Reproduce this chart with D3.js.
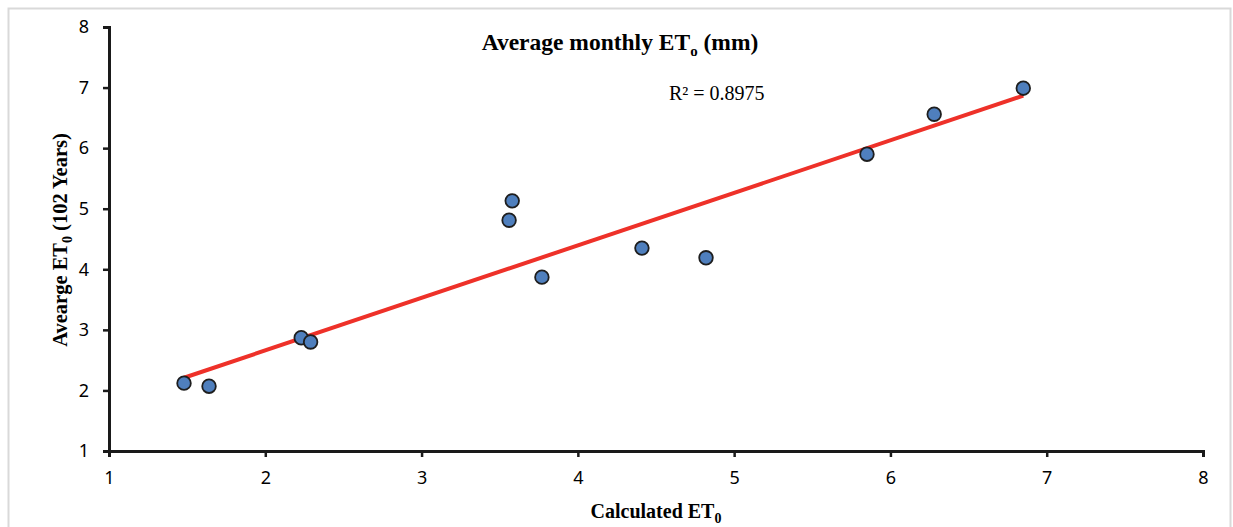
<!DOCTYPE html>
<html>
<head>
<meta charset="utf-8">
<script src="https://cdn.jsdelivr.net/npm/d3@7"></script>
<style>
  html, body { margin: 0; padding: 0; background: #fff; }
  svg { display: block; }
</style>
</head>
<body>
<svg id="graph"></svg>
<script>
// values
const calculated = [1.48, 1.64, 2.23, 2.29, 3.56, 3.58, 3.77, 4.41, 4.82, 5.85, 6.28, 6.85];
const average    = [2.12, 2.07, 2.87, 2.80, 4.81, 5.13, 3.87, 4.35, 4.19, 5.90, 6.56, 6.99];
const xTicks = [1, 2, 3, 4, 5, 6, 7, 8];
const yTicks = [1, 2, 3, 4, 5, 6, 7, 8];
const rSquared = "R² = 0.8975";

const WIDTH = 1233;
const HEIGHT = 527;
const margin = {top: 27, right: 30, bottom: 76, left: 109};

const svg = d3.select("#graph")
    .attr("width", WIDTH)
    .attr("height", HEIGHT);

// light frame round the chart
svg.append("rect")
    .attr("x", 8.5).attr("y", 8.5)
    .attr("width", 1222).attr("height", 540)
    .attr("fill", "none")
    .attr("stroke", "#d9d9d9")
    .attr("stroke-width", 2);

const x = d3.scaleLinear().domain([1, 8]).range([margin.left, WIDTH - margin.right]);
const y = d3.scaleLinear().domain([1, 8]).range([HEIGHT - margin.bottom, margin.top]);

const tickFont = "'Noto Sans', 'Open Sans', sans-serif";
const serif = "'Liberation Serif', 'DejaVu Serif', serif";
const fmt = d3.format("d");

const xAxis = svg.append("g")
    .attr("transform", `translate(0,${y(1)})`)
    .call(d3.axisBottom(x).tickValues(xTicks).tickFormat(fmt)
        .tickSize(6).tickSizeOuter(6).tickPadding(14));
const yAxis = svg.append("g")
    .attr("transform", `translate(${x(1)},0)`)
    .call(d3.axisLeft(y).tickValues(yTicks).tickFormat(fmt)
        .tickSize(6).tickSizeOuter(6).tickPadding(14));

[xAxis, yAxis].forEach(g => {
  g.attr("font-family", tickFont).attr("font-size", 18);
  g.select(".domain").attr("stroke", "#1a1a1a").attr("stroke-width", 3);
  g.selectAll(".tick line").attr("stroke", "#1a1a1a").attr("stroke-width", 2.5);
  g.selectAll(".tick text").attr("fill", "#000");
});

// least squares trend line
const n = calculated.length;
const mx = d3.mean(calculated), my = d3.mean(average);
let sxy = 0, sxx = 0;
for (let i = 0; i < n; i++) {
  sxy += (calculated[i] - mx) * (average[i] - my);
  sxx += (calculated[i] - mx) ** 2;
}
const slope = sxy / sxx, intercept = my - slope * mx;
const [x0, x1] = d3.extent(calculated);

svg.append("line")
    .attr("x1", x(x0)).attr("y1", y(intercept + slope * x0))
    .attr("x2", x(x1)).attr("y2", y(intercept + slope * x1))
    .attr("stroke", "#ee3129")
    .attr("stroke-width", 4);

svg.append("g")
    .selectAll("circle")
    .data(calculated)
    .join("circle")
    .attr("cx", d => x(d))
    .attr("cy", (d, i) => y(average[i]))
    .attr("r", 6.8)
    .attr("fill", "#4f7fbd")
    .attr("stroke", "#1e1e1e")
    .attr("stroke-width", 1.8);

// title
const title = svg.append("text")
    .attr("x", 620).attr("y", 50)
    .attr("text-anchor", "middle")
    .attr("font-family", serif)
    .attr("font-weight", "bold")
    .attr("font-size", 23.5);
title.append("tspan").text("Average monthly ET");
title.append("tspan").attr("dy", 6).attr("font-size", 15).text("o");
title.append("tspan").attr("dy", -6).text(" (mm)");

svg.append("text")
    .attr("x", 669).attr("y", 100)
    .attr("font-family", serif)
    .attr("font-size", 20)
    .text(rSquared);

// axis titles
const xl = svg.append("text")
    .attr("x", 656).attr("y", 518)
    .attr("text-anchor", "middle")
    .attr("font-family", serif)
    .attr("font-weight", "bold")
    .attr("font-size", 20);
xl.append("tspan").text("Calculated ET");
xl.append("tspan").attr("dy", 5).attr("font-size", 14).text("0");

const yl = svg.append("text")
    .attr("transform", "translate(67,240) rotate(-90)")
    .attr("text-anchor", "middle")
    .attr("font-family", serif)
    .attr("font-weight", "bold")
    .attr("font-size", 20.5);
yl.append("tspan").text("Avearge ET");
yl.append("tspan").attr("dy", 5).attr("font-size", 14).text("0");
yl.append("tspan").attr("dy", -5).text(" (102 Years)");
</script>
</body>
</html>
